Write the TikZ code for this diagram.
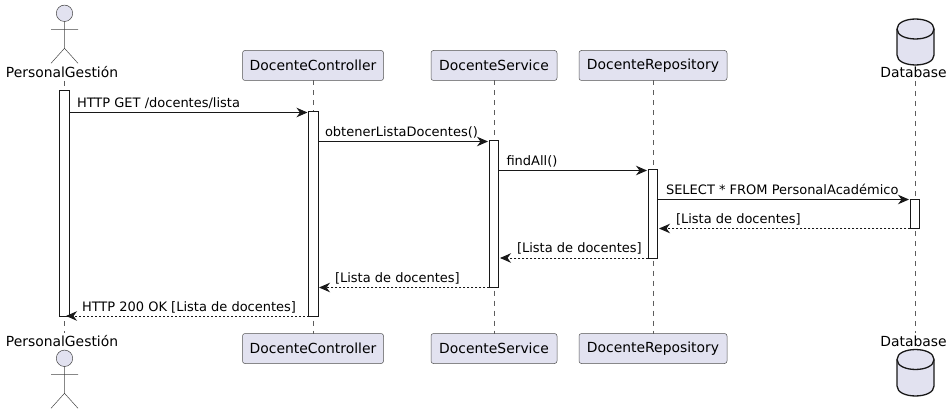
\documentclass[tikz,border=0pt]{standalone}
\usepackage{fontspec}
\setmainfont{DejaVu Sans}
\usetikzlibrary{arrows.meta}
\definecolor{pfill}{HTML}{E2E2F0}
\definecolor{pline}{HTML}{181818}
\tikzset{
  x=1pt,y=-1pt,
  every node/.style={inner sep=0pt,outer sep=0pt,text=black},
  headbox/.style={draw=pline!75,fill=pfill,line width=0.5pt,rounded corners=2.5pt,minimum height=30pt,font=\fontsize{13.9}{16}\selectfont},
  actorname/.style={font=\fontsize{13.9}{16}\selectfont,anchor=base},
  lifeline/.style={draw=pline!70,line width=0.5pt,dash pattern=on 5pt off 5pt},
  activebar/.style={draw=pline,fill=white,line width=1pt},
  msg/.style={draw=pline,line width=1pt,-{Stealth[length=11pt,width=9.5pt,inset=3.5pt]}},
  ret/.style={msg,dash pattern=on 2pt off 2pt},
  msgtext/.style={font=\fontsize{13}{15}\selectfont,anchor=base west},
  stick/.style={draw=pline!80,line width=0.5pt,fill=pfill},
  dbshape/.style={draw=pline,fill=pfill,line width=1.3pt},
}
\newcommand{\stickman}[2]{%
  \draw[stick] (#1,#2) circle[radius=8.2pt];
  \draw[stick,fill=none] (#1,#2+8) -- (#1,#2+35) (#1-13.5,#2+16) -- (#1+13.5,#2+16)
    (#1-13.5,#2+50) -- (#1,#2+35) -- (#1+13.5,#2+50);}
\newcommand{\dbcyl}[2]{%
  \draw[dbshape] (897,#1+10) .. controls (897,#1-3.3) and (934,#1-3.3) .. (934,#1+10)
    -- (934,#2-10) .. controls (934,#2+3.3) and (897,#2+3.3) .. (897,#2-10) -- cycle;
  \draw[dbshape,fill=none] (897,#1+10) .. controls (897,#1+23.3) and (934,#1+23.3) .. (934,#1+10);}
\begin{document}
\begin{tikzpicture}
\useasboundingbox (0,0) rectangle (952,414);
% participants top
\node[actorname] (atop) at (62,78) {PersonalGestión};
\node[headbox,minimum width=141pt] (ctop) at (313,65.5) {\raisebox{-0.7pt}{DocenteController}};
\node[headbox,minimum width=126pt] (stop) at (494,65.5) {\raisebox{-0.7pt}{DocenteService}};
\node[headbox,minimum width=148pt] (rtop) at (653,65.5) {\raisebox{-0.7pt}{DocenteRepository}};
\node[actorname] (dtop) at (913.5,78) {Database};
% participants bottom
\node[actorname] (abot) at (62,346) {PersonalGestión};
\node[headbox,minimum width=141pt] (cbot) at (313,348.5) {\raisebox{-0.7pt}{DocenteController}};
\node[headbox,minimum width=126pt] (sbot) at (494,348.5) {\raisebox{-0.7pt}{DocenteService}};
\node[headbox,minimum width=148pt] (rbot) at (653,348.5) {\raisebox{-0.7pt}{DocenteRepository}};
\node[actorname] (dbot) at (913.5,346) {Database};
% lifelines
\draw[lifeline] (64.5,81) -- (64.5,333);
\draw[lifeline] (ctop.south) -- (cbot.north);
\draw[lifeline] (stop.south) -- (sbot.north);
\draw[lifeline] (rtop.south) -- (rbot.north);
\draw[lifeline] (915.5,81) -- (915.5,333);
% actors and databases
\stickman{64.5}{13.3}
\stickman{64.5}{358.3}
\dbcyl{19}{65}
\dbcyl{349.5}{396}
% activations
\node[activebar,minimum width=9.5pt,minimum height=225pt] (aa) at (64.3,203.5) {};
\node[activebar,minimum width=9.5pt,minimum height=204pt] (ac) at (313.3,214) {};
\node[activebar,minimum width=9.5pt,minimum height=146pt] (as) at (494,214) {};
\node[activebar,minimum width=9.5pt,minimum height=88pt] (ar) at (653,214) {};
\node[activebar,minimum width=9.5pt,minimum height=29pt] (ad) at (915.2,213.5) {};
% message end points
\coordinate (m1a) at (aa.east|-0,112.5); \coordinate (m1b) at (307.5,112.5);
\coordinate (m2a) at (ac.east|-0,141.5); \coordinate (m2b) at (488,141.5);
\coordinate (m3a) at (as.east|-0,170.5); \coordinate (m3b) at (647,170.5);
\coordinate (m4a) at (ar.east|-0,199.5); \coordinate (m4b) at (909,199.5);
\coordinate (m5a) at (ad.west|-0,228.5); \coordinate (m5b) at (659,228.5);
\coordinate (m6a) at (ar.west|-0,258); \coordinate (m6b) at (500,258);
\coordinate (m7a) at (as.west|-0,287.5); \coordinate (m7b) at (319,287.5);
\coordinate (m8a) at (ac.west|-0,316); \coordinate (m8b) at (66,316);
\draw[msg] (m1a) -- (m1b);
\draw[msg] (m2a) -- (m2b);
\draw[msg] (m3a) -- (m3b);
\draw[msg] (m4a) -- (m4b);
\draw[ret] (m5a) -- (m5b);
\draw[ret] (m6a) -- (m6b);
\draw[ret] (m7a) -- (m7b);
\draw[ret] (m8a) -- (m8b);
% message labels
\node[msgtext] (t1) at (77,107.5) {HTTP GET /docentes/lista};
\node[msgtext] (t2) at (325,136.5) {obtenerListaDocentes()};
\node[msgtext] (t3) at (506.5,165.5) {findAll()};
\node[msgtext] (t4) at (666,194.5) {SELECT * FROM PersonalAcadémico};
\node[msgtext] (t5) at (676,223.5) {[Lista de docentes]};
\node[msgtext] (t6) at (517,252.5) {[Lista de docentes]};
\node[msgtext] (t7) at (335,282) {[Lista de docentes]};
\node[msgtext] (t8) at (82,311) {HTTP 200 OK [Lista de docentes]};
\end{tikzpicture}
\end{document}
